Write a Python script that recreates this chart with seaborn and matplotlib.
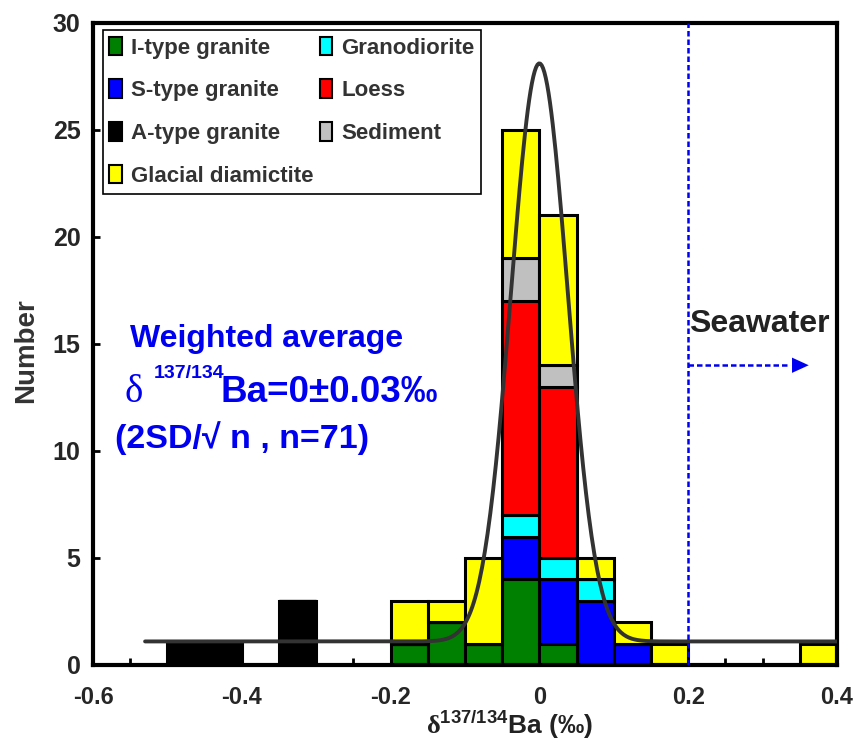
import numpy as np
import pandas as pd
import matplotlib
matplotlib.use("Agg")
import matplotlib.pyplot as plt
from matplotlib.patches import Patch
from matplotlib.ticker import MultipleLocator
import seaborn as sns

# Histogram bins of delta137/134Ba (per mil): lower edges, 0.05 wide
bin_starts = [-0.50, -0.45, -0.40, -0.35, -0.30, -0.25, -0.20, -0.15, -0.10,
              -0.05, 0.00, 0.05, 0.10, 0.15, 0.20, 0.25, 0.30, 0.35]
bin_width = 0.05

# Number of samples per bin for each rock type
i_type_granite     = [0, 0, 0, 0, 0, 0, 1, 2, 1, 4, 1, 0, 0, 0, 0, 0, 0, 0]
s_type_granite     = [0, 0, 0, 0, 0, 0, 0, 0, 0, 2, 3, 3, 1, 0, 0, 0, 0, 0]
a_type_granite     = [1, 1, 0, 3, 0, 0, 0, 0, 0, 0, 0, 0, 0, 0, 0, 0, 0, 0]
granodiorite       = [0, 0, 0, 0, 0, 0, 0, 0, 0, 1, 1, 1, 0, 0, 0, 0, 0, 0]
loess              = [0, 0, 0, 0, 0, 0, 0, 0, 0, 10, 8, 0, 0, 0, 0, 0, 0, 0]
sediment           = [0, 0, 0, 0, 0, 0, 0, 0, 0, 2, 1, 0, 0, 0, 0, 0, 0, 0]
glacial_diamictite = [0, 0, 0, 0, 0, 0, 2, 1, 4, 6, 7, 1, 1, 1, 0, 0, 0, 1]

# Fitted normal distribution (weighted average = 0)
fit_mean = 0.0
fit_sd = 0.038
fit_peak = 27.0
fit_base = 1.1
fit_start, fit_end = -0.53, 0.40

seawater = 0.2

x_ticks = [-0.6, -0.4, -0.2, 0.0, 0.2, 0.4]
x_ticklabels = ["-0.6", "-0.4", "-0.2", "0", "0.2", "0.4"]
y_ticks = [0, 5, 10, 15, 20, 25, 30]

groups = {
    "I-type granite": i_type_granite,
    "S-type granite": s_type_granite,
    "A-type granite": a_type_granite,
    "Glacial diamictite": glacial_diamictite,
    "Granodiorite": granodiorite,
    "Loess": loess,
    "Sediment": sediment,
}
colors = {
    "I-type granite": "#008000",
    "S-type granite": "#0000ff",
    "A-type granite": "#000000",
    "Glacial diamictite": "#ffff00",
    "Granodiorite": "#00ffff",
    "Loess": "#ff0000",
    "Sediment": "#c0c0c0",
}
# seaborn stacks the last hue level at the bottom
stack_order = ["Glacial diamictite", "Sediment", "Loess", "Granodiorite",
               "S-type granite", "I-type granite", "A-type granite"]

rows = []
for name, counts in groups.items():
    for start, c in zip(bin_starts, counts):
        if c:
            rows.append((start + bin_width / 2, name, c))
df = pd.DataFrame(rows, columns=["delta", "rock", "n"])
edges = [round(b, 2) for b in bin_starts] + [round(bin_starts[-1] + bin_width, 2)]

sns.set_style("ticks")
plt.rcParams["font.family"] = ["Liberation Sans", "DejaVu Sans"]
plt.rcParams["font.weight"] = "bold"
plt.rcParams["axes.labelweight"] = "bold"
plt.rcParams["axes.unicode_minus"] = False
plt.rcParams["mathtext.fontset"] = "custom"
plt.rcParams["mathtext.rm"] = "Liberation Serif"
plt.rcParams["mathtext.bf"] = "Liberation Sans:bold"
plt.rcParams["mathtext.it"] = "Liberation Sans:italic:bold"
plt.rcParams["mathtext.sf"] = "Liberation Sans:bold"
plt.rcParams["mathtext.default"] = "bf"

fig = plt.figure(figsize=(8.58, 7.44), dpi=100)
fig.patch.set_facecolor("white")
ax = fig.add_axes([0.1084, 0.1062, 0.8671, 0.8633])
ax.set_axisbelow(True)

sns.histplot(data=df, x="delta", weights="n", hue="rock", hue_order=stack_order,
             palette=colors, multiple="stack", bins=edges, alpha=1,
             edgecolor="black", linewidth=2.2, legend=False, ax=ax, zorder=2)

curve_x = np.linspace(fit_start, fit_end, 500)
curve_y = fit_base + fit_peak * np.exp(-0.5 * ((curve_x - fit_mean) / fit_sd) ** 2)
sns.lineplot(x=curve_x, y=curve_y, color="#333333", linewidth=2.8,
             estimator=None, sort=False, ax=ax, zorder=4)

blue = "#0000f0"
ax.axvline(seawater, color=blue, linewidth=1.8, linestyle=(0, (2.2, 1.2)), zorder=5)
ax.plot([seawater, 0.335], [14.0, 14.0], color=blue, linewidth=1.8,
        linestyle=(0, (2.2, 1.2)), zorder=5)
ax.annotate("", xy=(0.362, 14.0), xytext=(0.330, 14.0),
            arrowprops=dict(arrowstyle="-|>,head_length=1.2,head_width=0.55",
                            color=blue, linewidth=0.01, shrinkA=0, shrinkB=0),
            zorder=5)
ax.text(0.201, 15.55, "Seawater", color="#222222", fontsize=23,
        ha="left", va="baseline", zorder=6)

# Weighted-average annotation
ax.text(-0.550, 14.86, "Weighted average", color=blue, fontsize=23,
        ha="left", va="baseline")
ax.text(-0.557, 12.30, "δ", color=blue, fontsize=28, family="Liberation Serif",
        fontweight="normal", ha="left", va="baseline")
ax.text(-0.519, 13.40, "137/134", color=blue, fontsize=14,
        ha="left", va="baseline")
ax.text(-0.429, 12.30, "Ba=0±0.03‰", color=blue, fontsize=26.5,
        ha="left", va="baseline")
ax.text(-0.570, 10.14, "(2SD/√ n , n=71)", color=blue, fontsize=24.5,
        ha="left", va="baseline")

ax.set_xlim(-0.6, 0.4)
ax.set_ylim(0, 30)
ax.set_xticks(x_ticks)
ax.set_xticklabels(x_ticklabels)
ax.set_yticks(y_ticks)
ax.xaxis.set_minor_locator(MultipleLocator(0.05))
ax.tick_params(axis="both", which="both", direction="in", color="black", width=2.0)
ax.tick_params(axis="x", which="both", length=5, pad=15, labelsize=17)
ax.tick_params(axis="y", which="major", length=5, pad=9, labelsize=18)

for side in ["left", "right", "top", "bottom"]:
    ax.spines[side].set_visible(True)
    ax.spines[side].set_linewidth(3.0)
    ax.spines[side].set_color("black")

ax.set_xlabel(r"$\mathrm{\delta}^{137/134}$Ba (‰)", fontsize=19, color="#222222")
ax.xaxis.set_label_coords(0.56, -0.068)
ax.set_ylabel("Number", fontsize=20, color="#333333")
ax.yaxis.set_label_coords(-0.073, 0.49)

order = ["I-type granite", "S-type granite", "A-type granite", "Glacial diamictite",
         "Granodiorite", "Loess", "Sediment"]
handles = [Patch(facecolor=colors[k], edgecolor="black", linewidth=1.5, label=k)
           for k in order]
leg = ax.legend(handles=handles, ncol=2, loc="upper left",
                bbox_to_anchor=(0.013, 0.9886), frameon=True, fancybox=False,
                edgecolor="black", framealpha=1,
                prop={"size": 16, "weight": "bold"},
                handlelength=0.56, handleheight=0.9, handletextpad=0.4,
                columnspacing=0.3, labelspacing=0.94, borderpad=0.3,
                borderaxespad=0)
leg.get_frame().set_linewidth(1.2)
for t in leg.get_texts():
    t.set_color("#333333")

fig.savefig("out.png", dpi=100)
